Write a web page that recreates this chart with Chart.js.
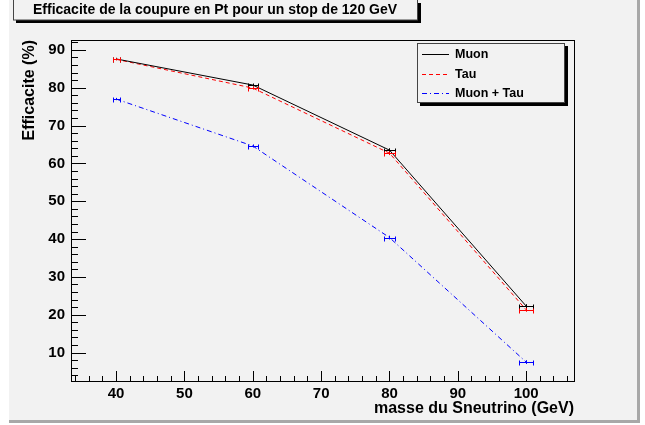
<!DOCTYPE html>
<html><head><meta charset="utf-8">
<script src="https://cdn.jsdelivr.net/npm/chart.js@4"></script>
<style>html,body{margin:0;padding:0;background:#fff;overflow:hidden;} canvas{display:block;}</style>
</head><body>
<canvas id="c" width="645" height="425"></canvas>
<script>
const masses = [40, 60, 80, 100];
const muon = [87.6, 80.7, 63.5, 22.3];
const tau = [87.5, 79.9, 62.7, 21.3];
const muonTau = [77.0, 64.6, 40.4, 7.5];
const xErr = [0.5, 0.7, 0.8, 1.0];
const yErr = [0.3, 0.4, 0.5, 0.5];
const xTicks = [40, 50, 60, 70, 80, 90, 100];
const yTicks = [10, 20, 30, 40, 50, 60, 70, 80, 90];
const seriesNames = ['Muon', 'Tau', 'Muon + Tau'];
const chartTitle = 'Efficacite de la coupure en Pt pour un stop de 120 GeV';
const xTitle = 'masse du Sneutrino (GeV)';
const yTitle = 'Efficacite (%)';

const FONT = '"Liberation Sans", Arial, sans-serif';
const PAD = '#f2f2f2';

function pts(arr) { return masses.map((m, i) => ({x: m, y: arr[i]})); }

const styles = [
  {color: '#000000', dash: []},
  {color: '#ff0000', dash: [4, 3]},
  {color: '#0000ff', dash: [5, 3, 1, 3]}
];
const series = [muon, tau, muonTau];

const padPlugin = {
  id: 'pad',
  beforeDraw(chart) {
    const ctx = chart.ctx;
    ctx.save();
    ctx.fillStyle = '#ffffff';
    ctx.fillRect(0, 0, 645, 425);
    ctx.fillStyle = PAD;
    ctx.fillRect(9, 0, 631, 423);
    ctx.fillStyle = '#a8a8a8';
    ctx.fillRect(9, 420, 631, 3);
    ctx.fillRect(637, 0, 3, 423);
    ctx.restore();
  }
};

const errPlugin = {
  id: 'errs',
  afterDatasetsDraw(chart) {
    const ctx = chart.ctx, xs = chart.scales.x, ys = chart.scales.y;
    ctx.save();
    ctx.lineWidth = 1;
    ctx.setLineDash([]);
    series.forEach((arr, d) => {
      ctx.strokeStyle = styles[d].color;
      arr.forEach((v, i) => {
        const px = xs.getPixelForValue(masses[i]);
        const py = Math.round(ys.getPixelForValue(v)) + 0.5;
        const x1 = Math.round(xs.getPixelForValue(masses[i] - xErr[i])) + 0.5;
        const x2 = Math.round(xs.getPixelForValue(masses[i] + xErr[i])) + 0.5;
        const y1 = ys.getPixelForValue(v - yErr[i]);
        const y2 = ys.getPixelForValue(v + yErr[i]);
        ctx.beginPath();
        ctx.moveTo(x1, py); ctx.lineTo(x2, py);
        ctx.moveTo(x1, py - 2); ctx.lineTo(x1, py + 3);
        ctx.moveTo(x2, py - 2); ctx.lineTo(x2, py + 3);
        ctx.moveTo(Math.round(px) + 0.5, y1); ctx.lineTo(Math.round(px) + 0.5, y2);
        ctx.stroke();
      });
    });
    ctx.restore();
  }
};

const decoPlugin = {
  id: 'deco',
  afterDraw(chart) {
    const ctx = chart.ctx, xs = chart.scales.x, ys = chart.scales.y, a = chart.chartArea;
    ctx.save();
    ctx.strokeStyle = '#000';
    ctx.lineWidth = 1;
    ctx.setLineDash([]);
    ctx.strokeRect(Math.round(a.left) + 0.5, Math.round(a.top) + 0.5, Math.round(a.right - a.left), Math.round(a.bottom - a.top));
    ctx.beginPath();
    for (let v = Math.ceil(ys.min / 2) * 2; v <= ys.max; v += 2) {
      const y = Math.round(ys.getPixelForValue(v)) + 0.5;
      const len = (v % 10 === 0) ? 15 : 7;
      ctx.moveTo(a.left, y); ctx.lineTo(a.left + len, y);
    }
    for (let v = Math.ceil(xs.min / 2) * 2; v <= xs.max; v += 2) {
      const x = Math.round(xs.getPixelForValue(v)) + 0.5;
      const len = (v % 10 === 0) ? 10 : 5;
      ctx.moveTo(x, a.bottom); ctx.lineTo(x, a.bottom - len);
    }
    ctx.stroke();

    // title box
    ctx.fillStyle = '#000';
    ctx.fillRect(16, 20, 405, 3);
    ctx.fillRect(418, 3, 3, 20);
    ctx.fillStyle = PAD;
    ctx.fillRect(13, 0, 405, 20);
    ctx.strokeStyle = '#444';
    ctx.strokeRect(13.5, -0.5, 404, 20.5);
    ctx.fillStyle = '#000';
    ctx.font = 'bold 14px ' + FONT;
    ctx.textAlign = 'left';
    ctx.textBaseline = 'middle';
    ctx.fillText(chartTitle, 33, 10.5);

    // legend
    ctx.fillStyle = '#000';
    ctx.fillRect(420, 103, 148, 3);
    ctx.fillRect(565, 46, 3, 60);
    ctx.fillStyle = PAD;
    ctx.fillRect(417, 43, 148, 60);
    ctx.strokeStyle = '#444';
    ctx.strokeRect(417.5, 43.5, 147, 59);
    ctx.font = 'bold 12.5px ' + FONT;
    const ly = [54, 74, 93];
    seriesNames.forEach((n, i) => {
      ctx.strokeStyle = styles[i].color;
      ctx.setLineDash(styles[i].dash);
      ctx.beginPath();
      ctx.moveTo(422, ly[i] + 0.5); ctx.lineTo(449, ly[i] + 0.5);
      ctx.stroke();
      ctx.fillStyle = '#000';
      ctx.fillText(n, 455, ly[i] + 0.5);
    });
    ctx.setLineDash([]);

    // axis titles
    ctx.font = 'bold 16px ' + FONT;
    ctx.textAlign = 'right';
    ctx.fillText(xTitle, a.right, 409);
    ctx.save();
    ctx.translate(30, a.top);
    ctx.rotate(-Math.PI / 2);
    ctx.font = 'bold 16px ' + FONT;
    ctx.textAlign = 'right';
    ctx.fillText(yTitle, 0, 0);
    ctx.restore();
    ctx.restore();
  }
};

new Chart(document.getElementById('c'), {
  type: 'line',
  data: {
    datasets: series.map((arr, i) => ({
      label: seriesNames[i],
      data: pts(arr),
      borderColor: styles[i].color,
      borderDash: styles[i].dash,
      borderWidth: 1,
      pointRadius: 0,
      tension: 0,
      fill: false
    }))
  },
  options: {
    responsive: false,
    animation: false,
    devicePixelRatio: 1,
    layout: {padding: {left: 0, top: 40, right: 71, bottom: 0}},
    plugins: {legend: {display: false}, tooltip: {enabled: false}, title: {display: false}},
    scales: {
      x: {
        type: 'linear', min: 33.4, max: 107.0,
        afterFit(s) { s.height = 44; },
        afterBuildTicks(s) { s.ticks = xTicks.map(v => ({value: v})); },
        grid: {display: false, drawTicks: false},
        border: {display: false},
        ticks: {font: {family: FONT, weight: 'bold', size: 15}, color: '#000', padding: 4, maxRotation: 0}
      },
      y: {
        type: 'linear', min: 2.5, max: 92.6,
        afterFit(s) { s.width = 71; },
        afterBuildTicks(s) { s.ticks = yTicks.map(v => ({value: v})); },
        grid: {display: false, drawTicks: false},
        border: {display: false},
        ticks: {font: {family: FONT, weight: 'bold', size: 15}, color: '#000', padding: 6}
      }
    }
  },
  plugins: [padPlugin, errPlugin, decoPlugin]
});
</script>
</body></html>
